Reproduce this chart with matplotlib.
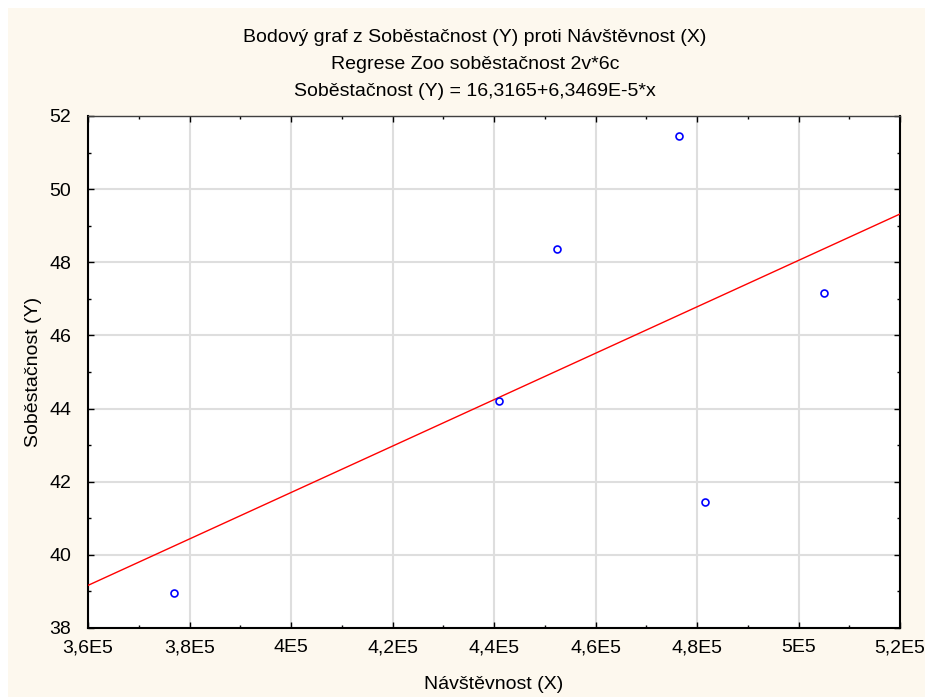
import numpy as np
import matplotlib
matplotlib.use("Agg")
import matplotlib.pyplot as plt
from matplotlib.patches import Rectangle
from matplotlib.ticker import MultipleLocator

# data
navstevnost = [377000, 441000, 452500, 476500, 481500, 505000]
sobestacnost = [38.95, 44.2, 48.35, 51.45, 41.45, 47.15]

# regression coefficients from the title
intercept = 16.3165
slope = 6.3469e-5

title_lines = [
    "Bodový graf z Soběstačnost (Y) proti Návštěvnost (X)",
    "Regrese Zoo soběstačnost 2v*6c",
    "Soběstačnost (Y) = 16,3165+6,3469E-5*x",
]
x_label = "Návštěvnost (X)"
y_label = "Soběstačnost (Y)"

x_ticks = [360000, 380000, 400000, 420000, 440000, 460000, 480000, 500000, 520000]
x_tick_labels = ["3,6E5", "3,8E5", "4E5", "4,2E5", "4,4E5", "4,6E5", "4,8E5", "5E5", "5,2E5"]
y_ticks = [38, 40, 42, 44, 46, 48, 50, 52]

plt.rcParams["font.family"] = ["Liberation Sans", "DejaVu Sans"]

W, H = 925, 697
fig = plt.figure(figsize=(W / 100, H / 100), dpi=100, facecolor="white")
fig.patches.append(Rectangle((8 / W, 0), 1, 1 - 8 / H, transform=fig.transFigure,
                             facecolor="#fdf8ee", edgecolor="none", zorder=-10))

ax = fig.add_axes([88 / W, 1 - 628 / H, (900 - 88) / W, (628 - 116) / H])
ax.set_facecolor("white")

xs = np.array([x_ticks[0], x_ticks[-1]])
ax.plot(xs, intercept + slope * xs, color="#ff0000", linewidth=1.0, zorder=3)
ax.plot(navstevnost, sobestacnost, linestyle="none", marker="o", markersize=5,
        markerfacecolor="none", markeredgecolor="#0000ff", markeredgewidth=1.2, zorder=4)

ax.set_xlim(x_ticks[0], x_ticks[-1])
ax.set_ylim(y_ticks[0], y_ticks[-1])
ax.set_xticks(x_ticks)
ax.set_xticklabels(x_tick_labels)
ax.set_yticks(y_ticks)
ax.xaxis.set_minor_locator(MultipleLocator(10000))
ax.yaxis.set_minor_locator(MultipleLocator(1))

ax.grid(True, which="major", color="#dedede", linewidth=1.5)
ax.set_axisbelow(True)
ax.tick_params(which="both", direction="in", top=True, right=True, labelsize=14,
               colors="black")
ax.tick_params(axis="x", pad=8)
ax.tick_params(axis="y", pad=12)
ax.tick_params(which="major", length=4, width=1)
ax.tick_params(which="minor", length=2.5, width=1)
for side in ["left", "bottom", "right"]:
    ax.spines[side].set_linewidth(1.5)
ax.spines["top"].set_linewidth(1.0)
ax.spines["top"].set_color("#404040")

ax.set_xlabel(x_label, fontsize=14, labelpad=14)
ax.set_ylabel(y_label, fontsize=14, labelpad=5)

for i, line in enumerate(title_lines):
    fig.text(475 / W, 1 - (37 + i * 27.5) / H, line, ha="center", va="center", fontsize=14)

fig.savefig("out.png", dpi=100, facecolor=fig.get_facecolor())
